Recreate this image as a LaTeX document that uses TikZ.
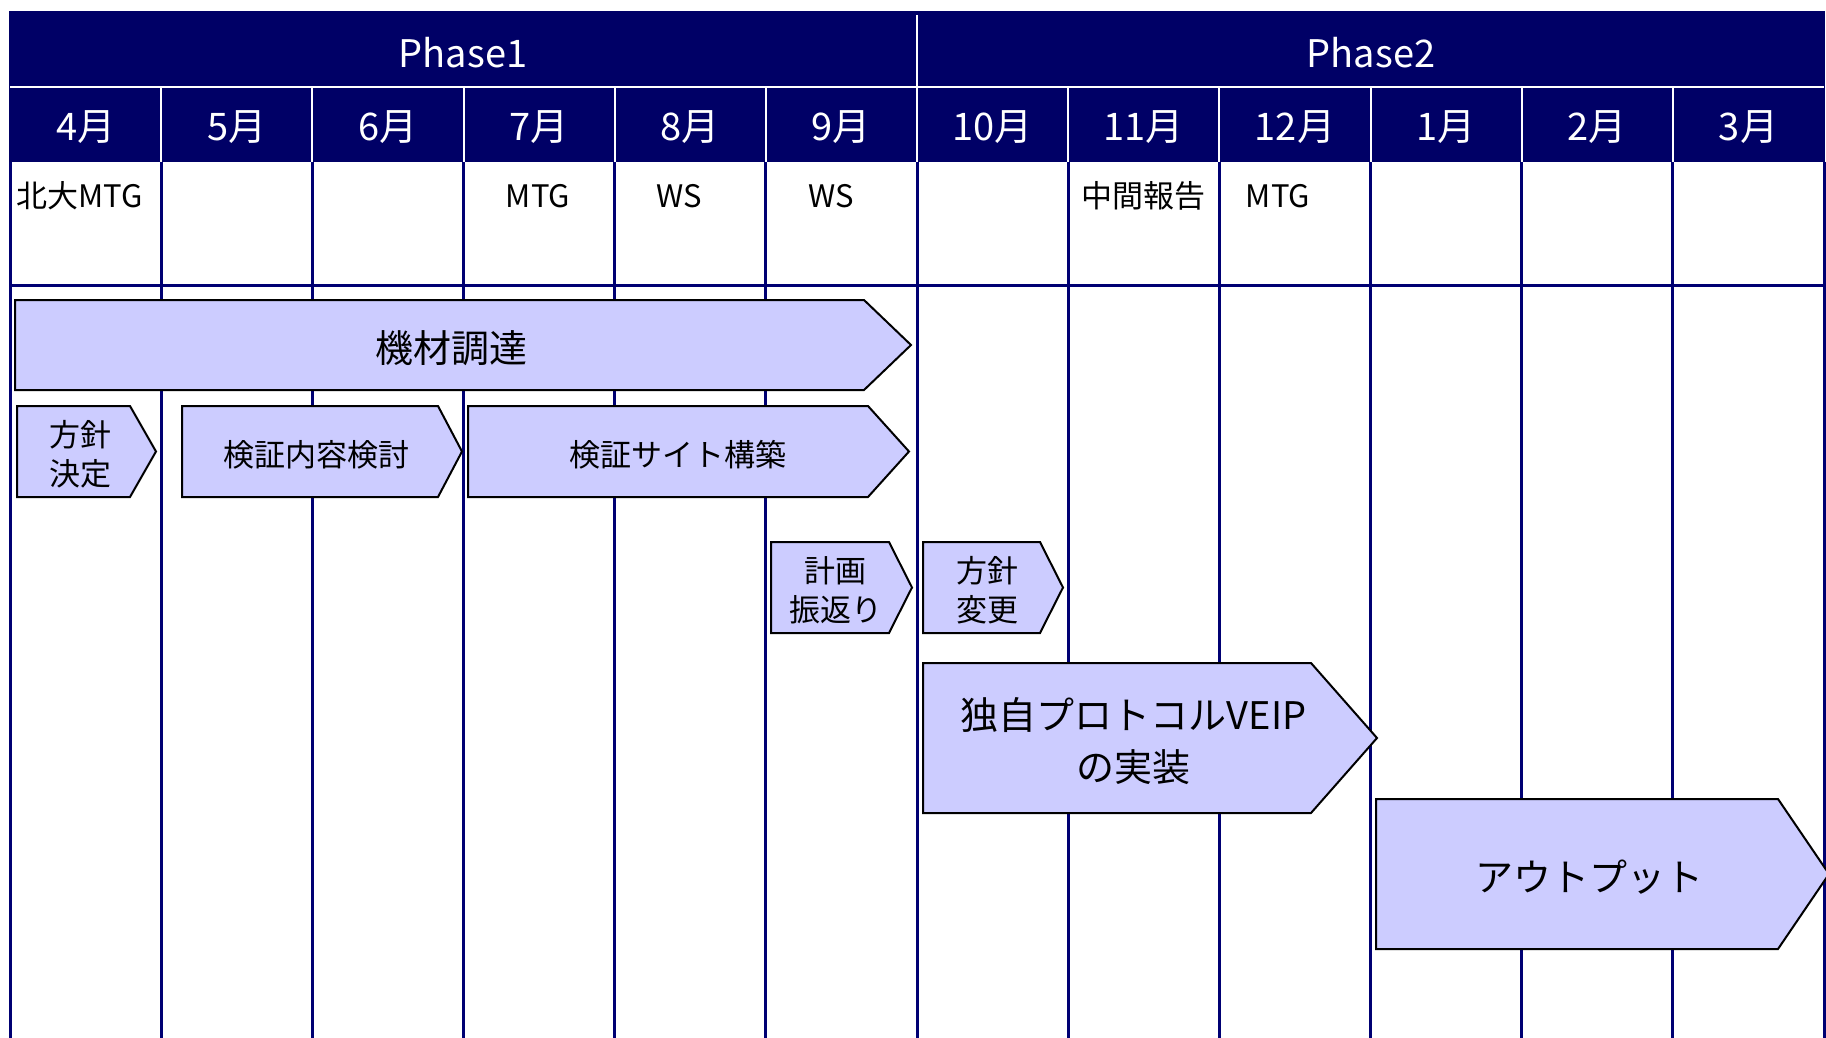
\documentclass[tikz,border=0pt]{standalone}
\usepackage{fontspec}
\setmainfont{Noto Sans CJK JP}
\usetikzlibrary{positioning,calc}
\definecolor{headnavy}{RGB}{0,0,102}
\definecolor{gridnavy}{RGB}{0,0,115}
\definecolor{barblue}{RGB}{204,204,255}
\tikzstyle{gridline}=[draw=gridnavy,line width=3pt]
\tikzstyle{headline}=[draw=white,line width=2pt]
\tikzstyle{phase}=[text=white,inner sep=0pt,font=\fontsize{38}{44}\selectfont]
\tikzstyle{month}=[text=white,inner sep=0pt,font=\fontsize{38}{44}\selectfont]
\tikzstyle{event}=[inner sep=0pt,font=\fontsize{31}{36}\selectfont]
\tikzstyle{bar}=[fill=barblue,draw=black,line width=2pt,line join=miter]
\tikzstyle{small}=[align=center,inner sep=0pt,font=\fontsize{31}{39}\selectfont]
\tikzstyle{large}=[align=center,inner sep=0pt,font=\fontsize{38}{52}\selectfont]
% name, left, body end, tip, top, bottom, text
\newcommand{\taskbar}[8][small]{%
  \draw[bar] (#3,#6) -- (#4,#6) -- (#5,{(#6+#7)/2}) -- (#4,#7) -- (#3,#7) -- cycle;
  \node[#1] (#2) at ({(#3+#4)/2+(#5-#4)/4},{(#6+#7)/2+3}) {#8};}

\begin{document}
\begin{tikzpicture}[x=1pt,y=-1pt]
    \useasboundingbox[fill=white] (0,0) rectangle (1826,1038);

    % month columns
    \foreach \i in {0,...,12}
      \draw[gridline] ({10+151.17*\i},162) -- ({10+151.17*\i},1038);
    \draw[gridline] (10,285) -- (1824,285);

    % header
    \fill[headnavy] (9,11) rectangle (1825,162);
    \draw[headline] (10,87) -- (1824,87);
    \draw[headline] (917,15) -- (917,87);
    \foreach \i in {1,...,11}
      \draw[headline] ({10+151.17*\i},87) -- ({10+151.17*\i},162);
    \node[phase] (phase1) at (463,53) {Phase1};
    \node[phase] (phase2) at (1371,53) {Phase2};
    \foreach \m [count=\i from 0] in {4,5,6,7,8,9,10,11,12,1,2,3}
      \node[month] (m\i) at ({10+151.17*(\i+0.5)},127) {\m{}月};

    % events
    \node[event,anchor=west] (ev1) at (16,196) {北大MTG};
    \node[event] (ev2) at (538,196) {MTG};
    \node[event] (ev3) at (679,196) {WS};
    \node[event] (ev4) at (831,196) {WS};
    \node[event] (ev5) at (1143,196) {中間報告};
    \node[event] (ev6) at (1278,196) {MTG};

    % tasks
    \taskbar[large]{kizai}{15}{864}{911}{300}{390}{機材調達}
    \taskbar{hoshin}{17}{130}{156}{406}{497}{方針\\決定}
    \taskbar{naiyo}{182}{438}{462}{406}{497}{検証内容検討}
    \taskbar{site}{468}{868}{909}{406}{497}{検証サイト構築}
    \taskbar{furikaeri}{771}{889}{912}{542}{633}{計画\\振返り}
    \taskbar{henko}{923}{1040}{1063}{542}{633}{方針\\変更}
    \taskbar[large]{veip}{923}{1311}{1377}{663}{813}{独自プロトコルVEIP\\の実装}
    \taskbar[large]{output}{1376}{1778}{1829}{799}{949}{アウトプット}
  \end{tikzpicture}
\end{document}
